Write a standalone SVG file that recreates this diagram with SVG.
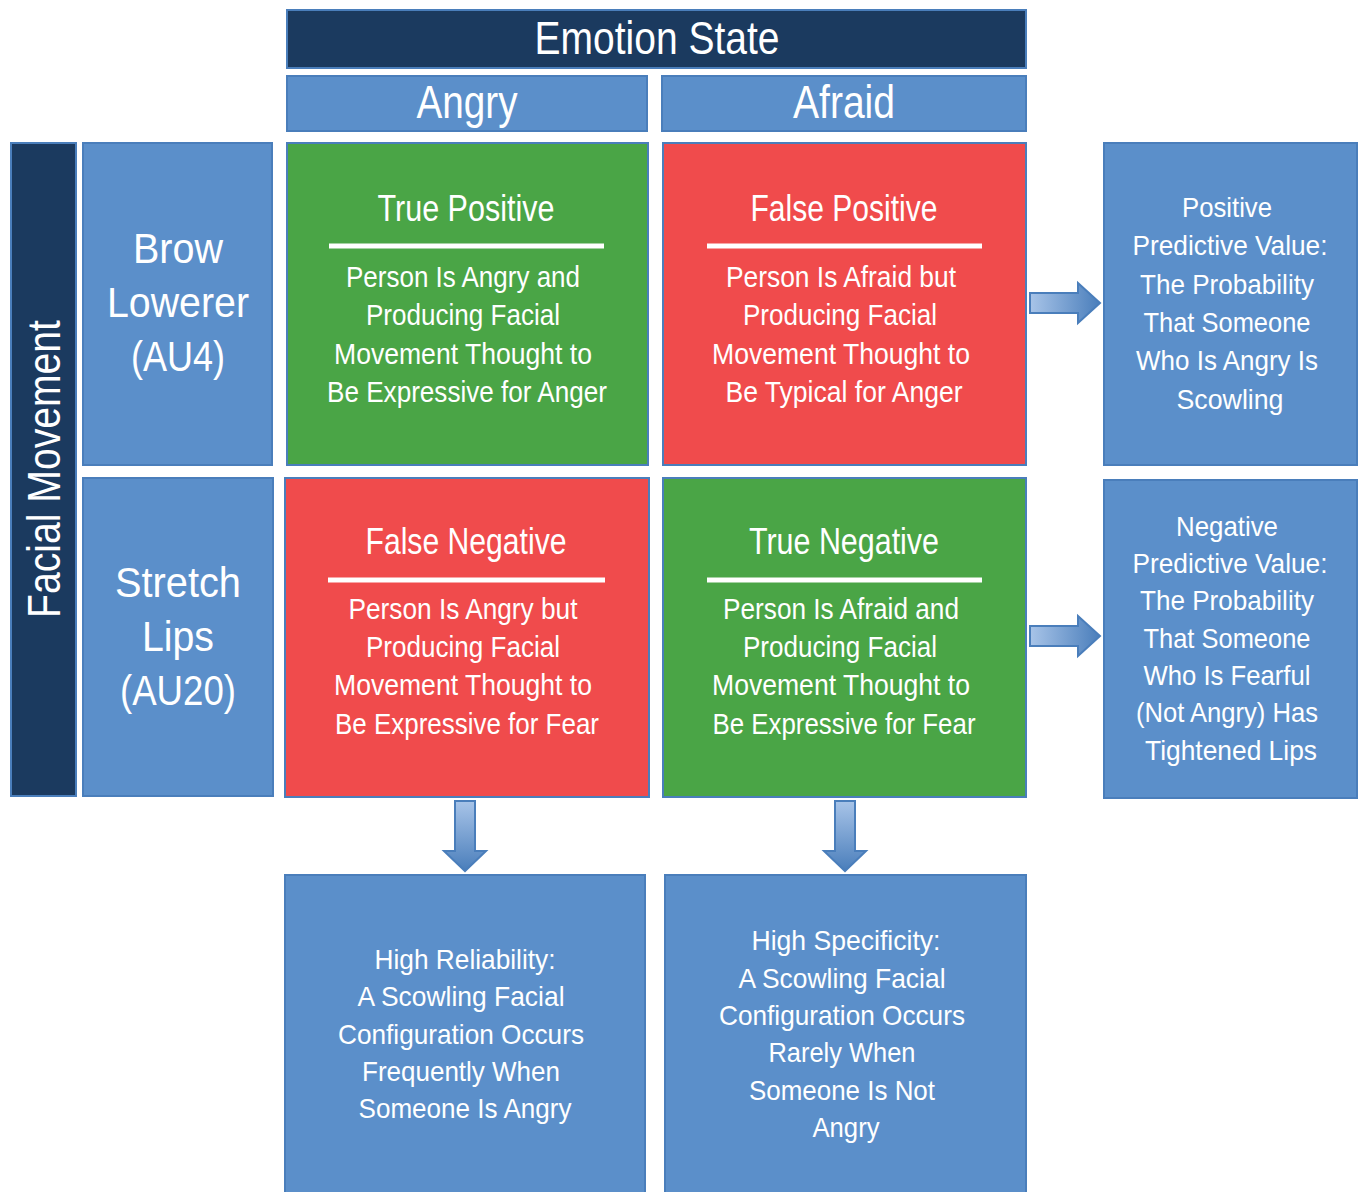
<svg xmlns="http://www.w3.org/2000/svg" width="1359" height="1192" viewBox="0 0 1359 1192">
<defs>
<style>
.blue{fill:#5b8fca;stroke:#4a7ebb;stroke-width:2}
.dark{fill:#1b3a5f;stroke:#4a7ebb;stroke-width:2}
.green{fill:#4aa546;stroke:#4a7ebb;stroke-width:2}
.red{fill:#f04b4c;stroke:#4a7ebb;stroke-width:2}
text{font-family:"Liberation Sans",Arial,sans-serif;fill:#fff;text-anchor:middle}
.h{font-size:46px}
.r{font-size:42px}
.t{font-size:36px}
.b{font-size:30px}
.s{font-size:28px}
.rule{stroke:#fff;stroke-width:5}
.arrow{stroke:#4a7ebb;stroke-width:2}
</style>
<linearGradient id="gh" x1="0" y1="0" x2="1" y2="0"><stop offset="0" stop-color="#a8c4e8"/><stop offset="1" stop-color="#4a7ebb"/></linearGradient>
<linearGradient id="gv" x1="0" y1="0" x2="0" y2="1"><stop offset="0" stop-color="#a8c4e8"/><stop offset="1" stop-color="#4a7ebb"/></linearGradient>
</defs>
<g id="emotion-state"><rect class="dark" x="287" y="10" width="739" height="58"/><text class="h" x="657" y="54" textLength="245" lengthAdjust="spacingAndGlyphs">Emotion State</text></g>
<g id="angry"><rect class="blue" x="287" y="76" width="360" height="55"/><text class="h" x="467" y="118" textLength="101" lengthAdjust="spacingAndGlyphs">Angry</text></g>
<g id="afraid"><rect class="blue" x="662" y="76" width="364" height="55"/><text class="h" x="844" y="118" textLength="102" lengthAdjust="spacingAndGlyphs">Afraid</text></g>
<g id="facial-movement"><rect class="dark" x="11" y="143" width="65" height="653"/><text class="h" transform="translate(60,469) rotate(-90)" textLength="298" lengthAdjust="spacingAndGlyphs">Facial Movement</text></g>
<g id="brow-lowerer"><rect class="blue" x="83" y="143" width="189" height="322"/>
<text class="r" x="178" y="263" textLength="90" lengthAdjust="spacingAndGlyphs">Brow</text>
<text class="r" x="178" y="317" textLength="142" lengthAdjust="spacingAndGlyphs">Lowerer</text>
<text class="r" x="178" y="371" textLength="94" lengthAdjust="spacingAndGlyphs">(AU4)</text></g>
<g id="stretch-lips"><rect class="blue" x="83" y="478" width="190" height="318"/>
<text class="r" x="178" y="597" textLength="126" lengthAdjust="spacingAndGlyphs">Stretch</text>
<text class="r" x="178" y="651" textLength="72" lengthAdjust="spacingAndGlyphs">Lips</text>
<text class="r" x="178" y="705" textLength="116" lengthAdjust="spacingAndGlyphs">(AU20)</text></g>
<g id="true-positive"><rect class="green" x="287" y="143" width="361" height="322"/>
<text class="t" x="466" y="221" textLength="177" lengthAdjust="spacingAndGlyphs">True Positive</text>
<line class="rule" x1="329" y1="246" x2="604" y2="246"/>
<text class="b" x="463" y="287" textLength="234" lengthAdjust="spacingAndGlyphs">Person Is Angry and</text>
<text class="b" x="463" y="325" textLength="194" lengthAdjust="spacingAndGlyphs">Producing Facial</text>
<text class="b" x="463" y="364" textLength="258" lengthAdjust="spacingAndGlyphs">Movement Thought to</text>
<text class="b" x="467" y="402" textLength="280" lengthAdjust="spacingAndGlyphs">Be Expressive for Anger</text></g>
<g id="false-positive"><rect class="red" x="663" y="143" width="363" height="322"/>
<text class="t" x="844" y="221" textLength="187" lengthAdjust="spacingAndGlyphs">False Positive</text>
<line class="rule" x1="707" y1="246" x2="982" y2="246"/>
<text class="b" x="841" y="287" textLength="230" lengthAdjust="spacingAndGlyphs">Person Is Afraid but</text>
<text class="b" x="840" y="325" textLength="194" lengthAdjust="spacingAndGlyphs">Producing Facial</text>
<text class="b" x="841" y="364" textLength="258" lengthAdjust="spacingAndGlyphs">Movement Thought to</text>
<text class="b" x="844" y="402" textLength="237" lengthAdjust="spacingAndGlyphs">Be Typical for Anger</text></g>
<g id="false-negative"><rect class="red" x="285" y="478" width="364" height="319"/>
<text class="t" x="466" y="554" textLength="201" lengthAdjust="spacingAndGlyphs">False Negative</text>
<line class="rule" x1="328" y1="580" x2="605" y2="580"/>
<text class="b" x="463" y="619" textLength="229" lengthAdjust="spacingAndGlyphs">Person Is Angry but</text>
<text class="b" x="463" y="657" textLength="194" lengthAdjust="spacingAndGlyphs">Producing Facial</text>
<text class="b" x="463" y="695" textLength="258" lengthAdjust="spacingAndGlyphs">Movement Thought to</text>
<text class="b" x="467" y="734" textLength="264" lengthAdjust="spacingAndGlyphs">Be Expressive for Fear</text></g>
<g id="true-negative"><rect class="green" x="663" y="478" width="363" height="319"/>
<text class="t" x="844" y="554" textLength="190" lengthAdjust="spacingAndGlyphs">True Negative</text>
<line class="rule" x1="707" y1="580" x2="982" y2="580"/>
<text class="b" x="841" y="619" textLength="236" lengthAdjust="spacingAndGlyphs">Person Is Afraid and</text>
<text class="b" x="840" y="657" textLength="194" lengthAdjust="spacingAndGlyphs">Producing Facial</text>
<text class="b" x="841" y="695" textLength="258" lengthAdjust="spacingAndGlyphs">Movement Thought to</text>
<text class="b" x="844" y="734" textLength="263" lengthAdjust="spacingAndGlyphs">Be Expressive for Fear</text></g>
<g id="ppv"><rect class="blue" x="1104" y="143" width="253" height="322"/>
<text class="s" x="1227" y="217" textLength="90" lengthAdjust="spacingAndGlyphs">Positive</text>
<text class="s" x="1230" y="255" textLength="195" lengthAdjust="spacingAndGlyphs">Predictive Value:</text>
<text class="s" x="1227" y="294" textLength="174" lengthAdjust="spacingAndGlyphs">The Probability</text>
<text class="s" x="1227" y="332" textLength="167" lengthAdjust="spacingAndGlyphs">That Someone</text>
<text class="s" x="1227" y="370" textLength="182" lengthAdjust="spacingAndGlyphs">Who Is Angry Is</text>
<text class="s" x="1230" y="409" textLength="107" lengthAdjust="spacingAndGlyphs">Scowling</text></g>
<g id="npv"><rect class="blue" x="1104" y="480" width="253" height="318"/>
<text class="s" x="1227" y="536" textLength="102" lengthAdjust="spacingAndGlyphs">Negative</text>
<text class="s" x="1230" y="573" textLength="195" lengthAdjust="spacingAndGlyphs">Predictive Value:</text>
<text class="s" x="1227" y="610" textLength="174" lengthAdjust="spacingAndGlyphs">The Probability</text>
<text class="s" x="1227" y="648" textLength="167" lengthAdjust="spacingAndGlyphs">That Someone</text>
<text class="s" x="1227" y="685" textLength="167" lengthAdjust="spacingAndGlyphs">Who Is Fearful</text>
<text class="s" x="1227" y="722" textLength="182" lengthAdjust="spacingAndGlyphs">(Not Angry) Has</text>
<text class="s" x="1231" y="760" textLength="172" lengthAdjust="spacingAndGlyphs">Tightened Lips</text></g>
<g id="high-reliability"><rect class="blue" x="285" y="875" width="360" height="320"/>
<text class="s" x="465" y="969" textLength="181" lengthAdjust="spacingAndGlyphs">High Reliability:</text>
<text class="s" x="461" y="1006" textLength="207" lengthAdjust="spacingAndGlyphs">A Scowling Facial</text>
<text class="s" x="461" y="1044" textLength="246" lengthAdjust="spacingAndGlyphs">Configuration Occurs</text>
<text class="s" x="461" y="1081" textLength="198" lengthAdjust="spacingAndGlyphs">Frequently When</text>
<text class="s" x="465" y="1118" textLength="213" lengthAdjust="spacingAndGlyphs">Someone Is Angry</text></g>
<g id="high-specificity"><rect class="blue" x="665" y="875" width="361" height="320"/>
<text class="s" x="846" y="950" textLength="189" lengthAdjust="spacingAndGlyphs">High Specificity:</text>
<text class="s" x="842" y="988" textLength="207" lengthAdjust="spacingAndGlyphs">A Scowling Facial</text>
<text class="s" x="842" y="1025" textLength="246" lengthAdjust="spacingAndGlyphs">Configuration Occurs</text>
<text class="s" x="842" y="1062" textLength="147" lengthAdjust="spacingAndGlyphs">Rarely When</text>
<text class="s" x="842" y="1100" textLength="186" lengthAdjust="spacingAndGlyphs">Someone Is Not</text>
<text class="s" x="846" y="1137" textLength="67" lengthAdjust="spacingAndGlyphs">Angry</text></g>
<g id="connectors">
<path class="arrow" fill="url(#gh)" d="M1030,293 H1078 V283 L1100,303 L1078,323 V313 H1030 Z"/>
<path class="arrow" fill="url(#gh)" d="M1030,626 H1078 V616 L1100,636 L1078,656 V646 H1030 Z"/>
<path class="arrow" fill="url(#gv)" d="M455,801 V851 H444 L465,871 L486,851 H475 V801 Z"/>
<path class="arrow" fill="url(#gv)" d="M835,801 V851 H824 L845,871 L866,851 H855 V801 Z"/>
</g>
</svg>
